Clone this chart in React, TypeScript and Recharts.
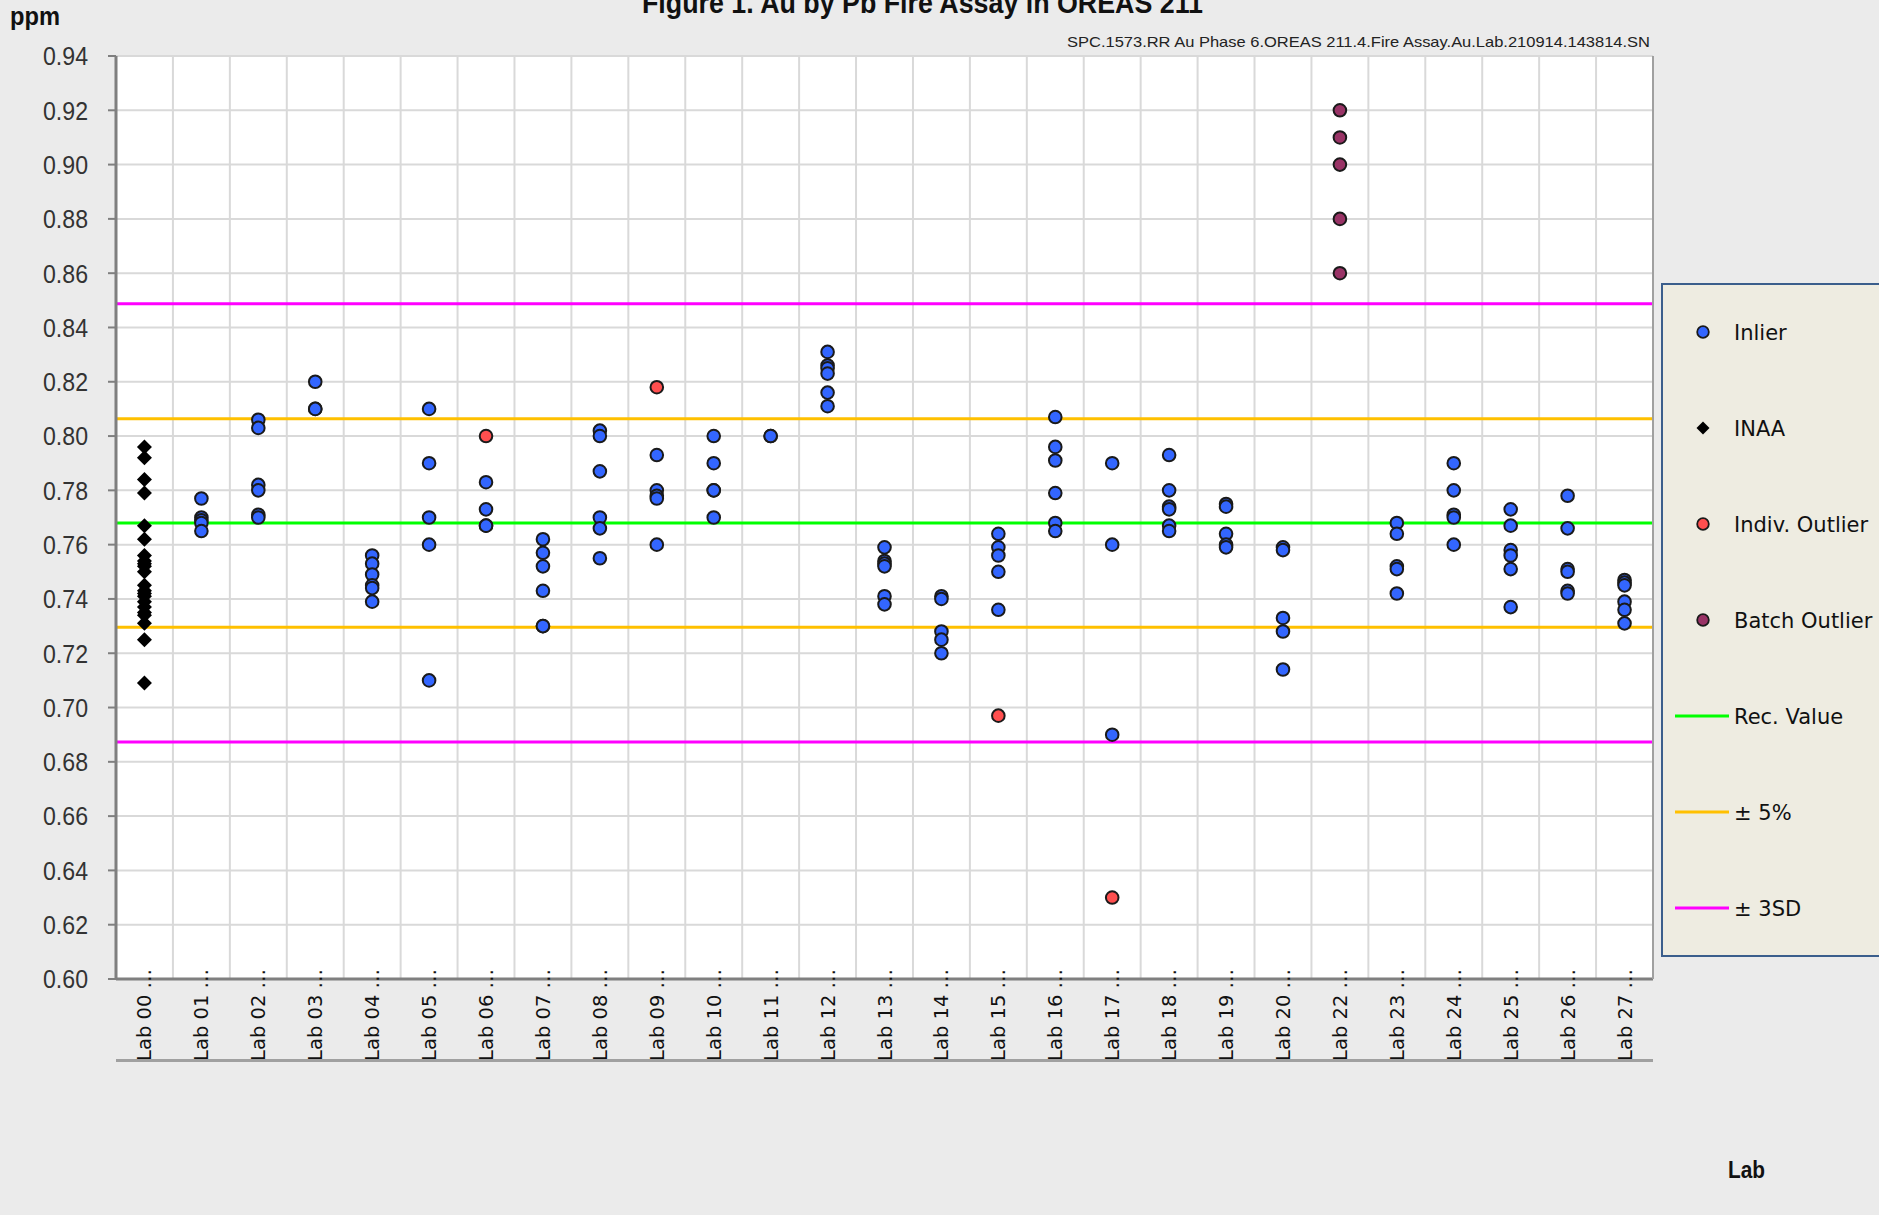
import { ScatterChart, Scatter, XAxis, YAxis, CartesianGrid, ReferenceLine } from 'recharts'

const labs = [
  'Lab 00', 'Lab 01', 'Lab 02', 'Lab 03', 'Lab 04', 'Lab 05', 'Lab 06', 'Lab 07', 'Lab 08',
  'Lab 09', 'Lab 10', 'Lab 11', 'Lab 12', 'Lab 13', 'Lab 14', 'Lab 15', 'Lab 16', 'Lab 17',
  'Lab 18', 'Lab 19', 'Lab 20', 'Lab 22', 'Lab 23', 'Lab 24', 'Lab 25', 'Lab 26', 'Lab 27',
]

// one row per lab, same order as labs
const inlierValues: number[][] = [
  [],
  [0.777, 0.770, 0.769, 0.768, 0.765],
  [0.806, 0.803, 0.782, 0.780, 0.771, 0.770],
  [0.820, 0.810, 0.810],
  [0.756, 0.753, 0.749, 0.745, 0.744, 0.739],
  [0.810, 0.790, 0.770, 0.760, 0.710],
  [0.783, 0.773, 0.767, 0.767],
  [0.762, 0.757, 0.752, 0.743, 0.730, 0.730],
  [0.802, 0.800, 0.787, 0.770, 0.766, 0.755],
  [0.793, 0.780, 0.778, 0.777, 0.760],
  [0.800, 0.790, 0.780, 0.780, 0.770],
  [0.800, 0.800],
  [0.831, 0.826, 0.825, 0.823, 0.816, 0.811],
  [0.759, 0.754, 0.753, 0.752, 0.741, 0.738],
  [0.741, 0.740, 0.728, 0.725, 0.720],
  [0.764, 0.759, 0.756, 0.750, 0.736],
  [0.807, 0.796, 0.791, 0.779, 0.768, 0.765],
  [0.790, 0.760, 0.690],
  [0.793, 0.780, 0.774, 0.773, 0.767, 0.765],
  [0.775, 0.774, 0.764, 0.760, 0.759],
  [0.759, 0.758, 0.733, 0.728, 0.714],
  [],
  [0.768, 0.764, 0.752, 0.751, 0.742],
  [0.790, 0.780, 0.771, 0.770, 0.760],
  [0.773, 0.767, 0.758, 0.756, 0.751, 0.737],
  [0.778, 0.766, 0.751, 0.750, 0.743, 0.742],
  [0.747, 0.746, 0.745, 0.739, 0.736, 0.731],
]

const inaaLab = 'Lab 00'
const inaaValues = [
  0.796, 0.792, 0.784, 0.779, 0.767, 0.762, 0.756, 0.754, 0.753, 0.752, 0.750,
  0.745, 0.743, 0.742, 0.741, 0.739, 0.737, 0.735, 0.734, 0.731, 0.725, 0.709,
]

const indivOutlierLabs = ['Lab 06', 'Lab 09', 'Lab 15', 'Lab 17']
const indivOutlierValues = [0.800, 0.818, 0.697, 0.630]

const batchOutlierLab = 'Lab 22'
const batchOutlierValues = [0.920, 0.910, 0.900, 0.880, 0.860]

const recValue = 0.768
const pct5Limits = [0.7296, 0.8064]
const sd3Limits = [0.6873, 0.8487]

const yTicks = [0.60, 0.62, 0.64, 0.66, 0.68, 0.70, 0.72, 0.74, 0.76, 0.78, 0.80, 0.82, 0.84, 0.86, 0.88, 0.90, 0.92, 0.94]

const title = 'Figure 1. Au by Pb Fire Assay in OREAS 211'
const subtitle = 'SPC.1573.RR Au Phase 6.OREAS 211.4.Fire Assay.Au.Lab.210914.143814.SN'

const legendItems = [
  { name: 'Inlier', kind: 'circle', color: '#3366ff' },
  { name: 'INAA', kind: 'diamond', color: '#000000' },
  { name: 'Indiv. Outlier', kind: 'circle', color: '#ff4f4f' },
  { name: 'Batch Outlier', kind: 'circle', color: '#993366' },
  { name: 'Rec. Value', kind: 'line', color: '#00ff00' },
  { name: '\u00b1 5%', kind: 'line', color: '#ffc000' },
  { name: '\u00b1 3SD', kind: 'line', color: '#ff00ff' },
]

const idx = (lab: string) => labs.indexOf(lab)
const inlierData = labs.flatMap((_, i) => inlierValues[i].map((v) => ({ x: i, y: v })))
const inaaData = inaaValues.map((v) => ({ x: idx(inaaLab), y: v }))
const indivData = indivOutlierLabs.map((lab, i) => ({ x: idx(lab), y: indivOutlierValues[i] }))
const batchData = batchOutlierValues.map((v) => ({ x: idx(batchOutlierLab), y: v }))

const xDomain = [-0.5, labs.length - 0.5]
const labTicks = labs.map((_, i) => i)
const bandEdges = labs.map((_, i) => i - 0.5).concat(labs.length - 0.5)
const minorYTicks: number[] = []
for (let k = 0; k <= Math.round((0.94 - 0.6) / 0.002); k++) minorYTicks.push(+(0.6 + k * 0.002).toFixed(3))

const AXIS = '#7f7f7f'
const GRID = '#d9d9d9'
const NARROW = "'Liberation Sans', Arial, sans-serif"
const VERDANA = "'DejaVu Sans', Verdana, sans-serif"

const circleShape = (fill: string) => (p: any) => (
  <circle cx={p.cx} cy={p.cy} r={6.3} fill={fill} stroke="#1a1a1a" strokeWidth={2} />
)
const diamondShape = (p: any) => (
  <polygon
    points={`${p.cx},${p.cy - 7.5} ${p.cx + 7.5},${p.cy} ${p.cx},${p.cy + 7.5} ${p.cx - 7.5},${p.cy}`}
    fill="#000"
  />
)

const YTick = (p: any) => (
  <text
    x={p.x}
    y={p.y}
    dy="0.36em"
    textAnchor="end"
    fontSize={26}
    fontFamily={NARROW}
    fill="#333"
    textLength={45}
    lengthAdjust="spacingAndGlyphs"
  >
    {Number(p.payload.value).toFixed(2)}
  </text>
)

const XTick = (p: any) => (
  <g transform={`translate(${p.x},${p.y - 11}) rotate(-90)`}>
    <text x={0} y={0} dy="0.36em" textAnchor="end" fontSize={19.5} fontFamily={VERDANA} fill="#111">
      {labs[p.payload.value] + ' \u2026'}
    </text>
  </g>
)

function LegendBox() {
  return (
    <svg width={240} height={674} style={{ position: 'absolute', left: 1661, top: 283 }}>
      <rect x={1} y={1} width={260} height={672} fill="#eeece1" stroke="#3b5e8c" strokeWidth={2} />
      {legendItems.map((item, i) => {
        const cy = 49 + i * 96
        return (
          <g key={item.name}>
            {item.kind === 'circle' && (
              <circle cx={42} cy={cy} r={5.8} fill={item.color} stroke="#1a1a1a" strokeWidth={1.8} />
            )}
            {item.kind === 'diamond' && (
              <polygon points={`42,${cy - 6.5} 48.5,${cy} 42,${cy + 6.5} 35.5,${cy}`} fill="#000" />
            )}
            {item.kind === 'line' && (
              <line x1={14} x2={68} y1={cy} y2={cy} stroke={item.color} strokeWidth={3} />
            )}
            <text x={73} y={cy} dy="0.36em" fontSize={21} fontFamily={VERDANA} fill="#111">
              {item.name}
            </text>
          </g>
        )
      })}
    </svg>
  )
}

export default function App() {
  return (
    <div
      style={{
        position: 'relative',
        width: 1879,
        height: 1215,
        overflow: 'hidden',
        background: '#ebebeb',
      }}
    >
      <style>{'body{margin:0;}'}</style>
      <ScatterChart width={1879} height={1215} margin={{ top: 56, right: 225, bottom: 155, left: 0 }}>
        <XAxis
          xAxisId="edge"
          type="number"
          domain={xDomain}
          ticks={bandEdges}
          interval={0}
          height={1}
          tick={false}
          tickSize={6}
          axisLine={{ stroke: AXIS, strokeWidth: 3 }}
          tickLine={{ stroke: AXIS, strokeWidth: 2 }}
          allowDataOverflow
        />
        <XAxis
          xAxisId="edgeIn"
          type="number"
          domain={xDomain}
          ticks={bandEdges}
          interval={0}
          height={1}
          mirror
          tick={false}
          tickSize={7}
          axisLine={false}
          tickLine={{ stroke: AXIS, strokeWidth: 2 }}
          allowDataOverflow
        />
        <XAxis
          xAxisId="lab"
          type="number"
          dataKey="x"
          domain={xDomain}
          ticks={labTicks}
          interval={0}
          height={80}
          tick={<XTick />}
          tickLine={false}
          tickSize={0}
          tickMargin={0}
          axisLine={false}
          allowDataOverflow
        />
        <YAxis
          yAxisId="minor"
          type="number"
          domain={[0.6, 0.94]}
          ticks={minorYTicks}
          interval={0}
          width={1}
          mirror
          tick={false}
          tickSize={6}
          axisLine={false}
          tickLine={{ stroke: AXIS, strokeWidth: 1.5 }}
          allowDataOverflow
        />
        <YAxis
          yAxisId="main"
          type="number"
          dataKey="y"
          domain={[0.6, 0.94]}
          ticks={yTicks}
          interval={0}
          width={116}
          tick={<YTick />}
          tickSize={8}
          tickMargin={20}
          axisLine={{ stroke: AXIS, strokeWidth: 3 }}
          tickLine={{ stroke: AXIS, strokeWidth: 2 }}
          allowDataOverflow
        />
        <YAxis
          yAxisId="right"
          orientation="right"
          type="number"
          domain={[0.6, 0.94]}
          ticks={yTicks}
          interval={0}
          width={1}
          tick={false}
          tickLine={false}
          axisLine={{ stroke: '#a0a0a0', strokeWidth: 2 }}
          allowDataOverflow
        />
        <CartesianGrid xAxisId="lab" yAxisId="main" vertical={false} stroke={GRID} strokeWidth={2} fill="#ffffff" />
        {bandEdges.map((v) => (
          <ReferenceLine key={'e' + v} xAxisId="lab" yAxisId="main" x={v} stroke={GRID} strokeWidth={2} />
        ))}
        {sd3Limits.map((v) => (
          <ReferenceLine key={'sd' + v} xAxisId="lab" yAxisId="main" y={v} stroke="#ff00ff" strokeWidth={3} />
        ))}
        {pct5Limits.map((v) => (
          <ReferenceLine key={'p' + v} xAxisId="lab" yAxisId="main" y={v} stroke="#ffc000" strokeWidth={3} />
        ))}
        <ReferenceLine xAxisId="lab" yAxisId="main" y={recValue} stroke="#00ff00" strokeWidth={3} />
        <Scatter name="INAA" xAxisId="lab" yAxisId="main" data={inaaData} shape={diamondShape} isAnimationActive={false} />
        <Scatter name="Inlier" xAxisId="lab" yAxisId="main" data={inlierData} shape={circleShape('#3366ff')} isAnimationActive={false} />
        <Scatter name="Indiv. Outlier" xAxisId="lab" yAxisId="main" data={indivData} shape={circleShape('#ff4f4f')} isAnimationActive={false} />
        <Scatter name="Batch Outlier" xAxisId="lab" yAxisId="main" data={batchData} shape={circleShape('#993366')} isAnimationActive={false} />
      </ScatterChart>
      {/* line closing the category label band under the axis */}
      <div style={{ position: 'absolute', left: 116, top: 1059, width: 1537, height: 3, background: '#a0a0a0' }} />
      <svg width={1879} height={70} style={{ position: 'absolute', left: 0, top: 0, pointerEvents: 'none' }}>
        <text x={642} y={13} fontSize={30} fontWeight="bold" fontFamily={NARROW} fill="#111" textLength={561} lengthAdjust="spacingAndGlyphs">
          {title}
        </text>
        <text x={1650} y={47} textAnchor="end" fontSize={15} fontFamily={NARROW} fill="#222" textLength={583} lengthAdjust="spacingAndGlyphs">
          {subtitle}
        </text>
        <text x={10} y={25} fontSize={25} fontWeight="bold" fontFamily={NARROW} fill="#111" textLength={50} lengthAdjust="spacingAndGlyphs">
          ppm
        </text>
      </svg>
      <svg width={120} height={40} style={{ position: 'absolute', left: 1720, top: 1150, pointerEvents: 'none' }}>
        <text x={8} y={28} fontSize={24} fontWeight="bold" fontFamily={NARROW} fill="#111" textLength={37} lengthAdjust="spacingAndGlyphs">
          Lab
        </text>
      </svg>
      <LegendBox />
    </div>
  )
}
